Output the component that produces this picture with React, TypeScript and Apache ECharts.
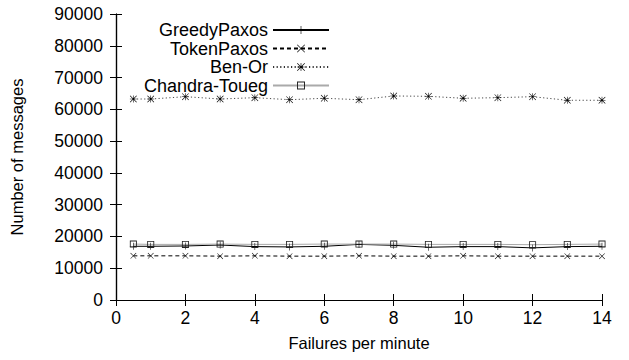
import React, { useEffect, useRef } from "react";
import * as echarts from "echarts";

const xs = [0.5, 1, 2, 3, 4, 5, 6, 7, 8, 9, 10, 11, 12, 13, 14];
const greedyPaxos = [16900, 16900, 17000, 17300, 16800, 16700, 16900, 17500, 17200, 16600, 16800, 16800, 16400, 16800, 16900];
const tokenPaxos = [13900, 13900, 13900, 13800, 13900, 13800, 13800, 13900, 13800, 13800, 13900, 13800, 13800, 13800, 13800];
const benOr = [63250, 63250, 63980, 63250, 63670, 63030, 63480, 63030, 64200, 64100, 63480, 63670, 63980, 62850, 62850];
const chandraToueg = [17600, 17500, 17500, 17600, 17500, 17500, 17600, 17600, 17600, 17500, 17500, 17500, 17400, 17500, 17600];
const seriesNames = ["GreedyPaxos", "TokenPaxos", "Ben-Or", "Chandra-Toueg"];
const xTitle = "Failures per minute";
const yTitle = "Number of messages";

const PLUS = "path://M0,4.6H10V5.4H0Z M4.6,0H5.4V10H4.6Z";
const CROSS = "path://M0,0.6L0.6,0L10,9.4L9.4,10Z M9.4,0L10,0.6L0.6,10L0,9.4Z";
const STAR = "path://M0,4.6H10V5.4H0Z M4.6,0H5.4V10H4.6Z M0,0.6L0.6,0L10,9.4L9.4,10Z M9.4,0L10,0.6L0.6,10L0,9.4Z";
const SQUARE = "path://M0,0H10V10H0Z M1.2,1.2V8.8H8.8V1.2Z";

const FONT = "Liberation Sans, Arial, sans-serif";

export default function App() {
  const ref = useRef<HTMLDivElement>(null);
  useEffect(() => {
    const chart = echarts.init(ref.current!, undefined, { renderer: "svg" });
    const pts = (v: number[]) => xs.map((x, i) => [x, v[i]]);
    const legendRows = [21, 39.5, 58, 76.5];
    const legendTxt = { fontFamily: FONT, fontSize: 18, lineHeight: 16, color: "#000" };
    const tickTxt = { fontFamily: FONT, fontSize: 17.5, color: "#000" };
    const titleTxt = { fontFamily: FONT, fontSize: 16.5, color: "#000" };
    chart.setOption({
      animation: false,
      backgroundColor: "#fff",
      textStyle: { fontFamily: FONT },
      grid: { left: 115, right: 27, top: 14, bottom: 60 },
      legend: seriesNames.map((n, i) => ({
        data: [{ name: n, textStyle: legendTxt }],
        align: "right",
        right: 299,
        top: legendRows[i],
        itemWidth: 56,
        itemHeight: 10,
        itemGap: 0,
        padding: 0,
        textStyle: legendTxt,
      })),
      xAxis: [
        {
          type: "value", min: 0, max: 14, interval: 2,
          name: xTitle, nameLocation: "middle", nameGap: 34,
          nameTextStyle: titleTxt,
          axisLine: { lineStyle: { color: "#000", width: 1.2 } },
          axisTick: { inside: true, length: 6, lineStyle: { color: "#000" } },
          axisLabel: { ...tickTxt, margin: 9 },
          splitLine: { show: false },
        },
        {
          type: "value", min: 0, max: 14, interval: 2, position: "top",
          axisLine: { lineStyle: { color: "#000", width: 1.2 } },
          axisTick: { inside: true, length: 6, lineStyle: { color: "#000" } },
          axisLabel: { show: false },
          splitLine: { show: false },
        },
      ],
      yAxis: [
        {
          type: "value", min: 0, max: 90000, interval: 10000,
          name: yTitle, nameLocation: "middle", nameGap: 91,
          nameTextStyle: titleTxt,
          axisLine: { show: true, lineStyle: { color: "#000", width: 1.2 } },
          axisTick: { show: true, inside: true, length: 6, lineStyle: { color: "#000" } },
          axisLabel: { ...tickTxt, margin: 13, formatter: (v: number) => String(v) },
          splitLine: { show: false },
        },
        {
          type: "value", min: 0, max: 90000, interval: 10000, position: "right",
          axisLine: { show: true, lineStyle: { color: "#000", width: 1.2 } },
          axisTick: { show: true, inside: true, length: 6, lineStyle: { color: "#000" } },
          axisLabel: { show: false },
          splitLine: { show: false },
        },
      ],
      series: [
        {
          name: seriesNames[0], type: "line", data: pts(greedyPaxos),
          symbol: PLUS, symbolSize: 7,
          itemStyle: { color: "#000" },
          lineStyle: { color: "#000", width: 1 },
        },
        {
          name: seriesNames[1], type: "line", data: pts(tokenPaxos),
          symbol: CROSS, symbolSize: 6,
          itemStyle: { color: "#000" },
          lineStyle: { color: "#000", width: 1, type: [4, 3] },
        },
        {
          name: seriesNames[2], type: "line", data: pts(benOr),
          symbol: STAR, symbolSize: 7,
          itemStyle: { color: "#000" },
          lineStyle: { color: "#333", width: 0.9, type: [1.2, 2.4] },
        },
        {
          name: seriesNames[3], type: "line", data: pts(chandraToueg),
          symbol: SQUARE, symbolSize: 7,
          itemStyle: { color: "#222" },
          lineStyle: { color: "#aaa", width: 1 },
        },
      ],
    });
    return () => chart.dispose();
  }, []);
  return <div ref={ref} style={{ width: 629, height: 360, position: "absolute", left: 0, top: 0 }} />;
}
